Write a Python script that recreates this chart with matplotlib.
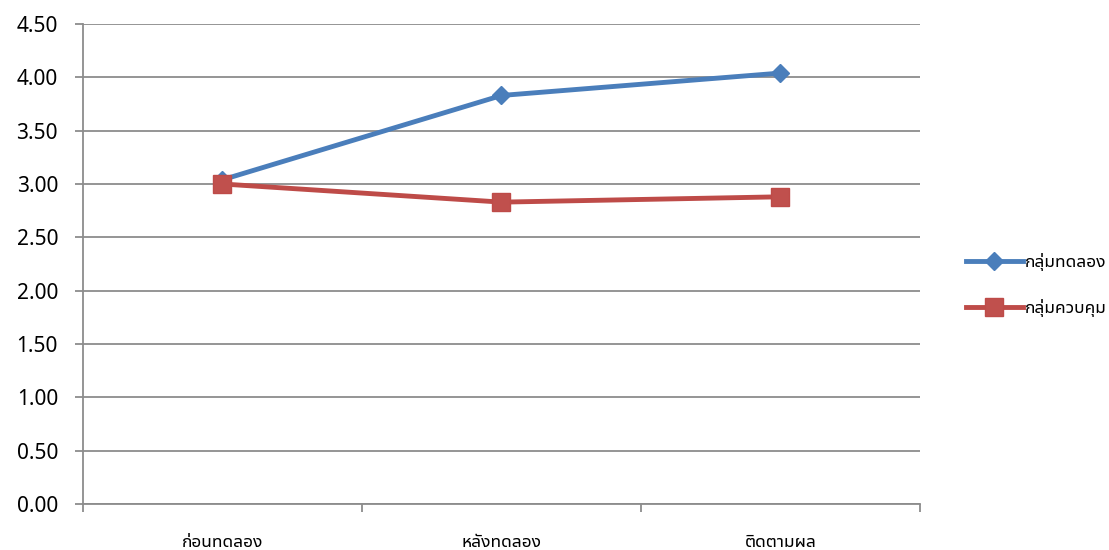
import matplotlib
matplotlib.use('Agg')
import matplotlib.pyplot as plt
import numpy as np

plt.rcParams['font.family'] = ['Noto Sans', 'Noto Sans Thai UI', 'DejaVu Sans']

categories = ['ก่อนทดลอง', 'หลังทดลอง', 'ติดตามผล']
experimental = [3.04, 3.83, 4.04]
control = [3.00, 2.83, 2.88]
series_names = ['กลุ่มทดลอง', 'กลุ่มควบคุม']
yticks = [0.0, 0.5, 1.0, 1.5, 2.0, 2.5, 3.0, 3.5, 4.0, 4.5]

fig = plt.figure(figsize=(11.09, 5.5), dpi=100)
ax = fig.add_axes([83/1109, 1-504/550, (920-83)/1109, (504-24)/550])

x = np.arange(len(categories))
ax.plot(x, experimental, color='#4A7EBB', lw=3.5, marker='D', ms=9,
        mfc='#4A7EBB', mec='#4A7EBB', label=series_names[0], zorder=3)
ax.plot(x, control, color='#BE4B48', lw=3.5, marker='s', ms=13,
        mfc='#C0504D', mec='#BE4B48', label=series_names[1], zorder=3)

ax.set_xlim(-0.5, len(categories) - 0.5)
ax.set_ylim(0, 4.5)
ax.set_yticks(yticks)
ax.set_yticklabels([f'{v:.2f}' for v in yticks], fontsize=15)
ax.yaxis.grid(True, color='#8c8c8c', lw=1.3)
ax.set_axisbelow(True)

ax.set_xticks(x)
ax.set_xticklabels(categories, fontsize=12.5)
ax.set_xticks(np.arange(-0.5, len(categories)), minor=True)
ax.tick_params(axis='x', which='major', length=0, pad=21)
ax.tick_params(axis='x', which='minor', length=6, color='#8c8c8c', width=1.3)
ax.tick_params(axis='y', length=6, color='#8c8c8c', width=1.3, pad=12)

for s in ['top', 'right']:
    ax.spines[s].set_visible(False)
for s in ['left', 'bottom']:
    ax.spines[s].set_color('#8c8c8c')
    ax.spines[s].set_linewidth(1.3)

fig.legend(loc='center left', bbox_to_anchor=(950/1109, 1-285/550), frameon=False,
           fontsize=12.5, handlelength=3.3, handletextpad=0.1, labelspacing=1.6)

fig.savefig('out.png', dpi=100)
